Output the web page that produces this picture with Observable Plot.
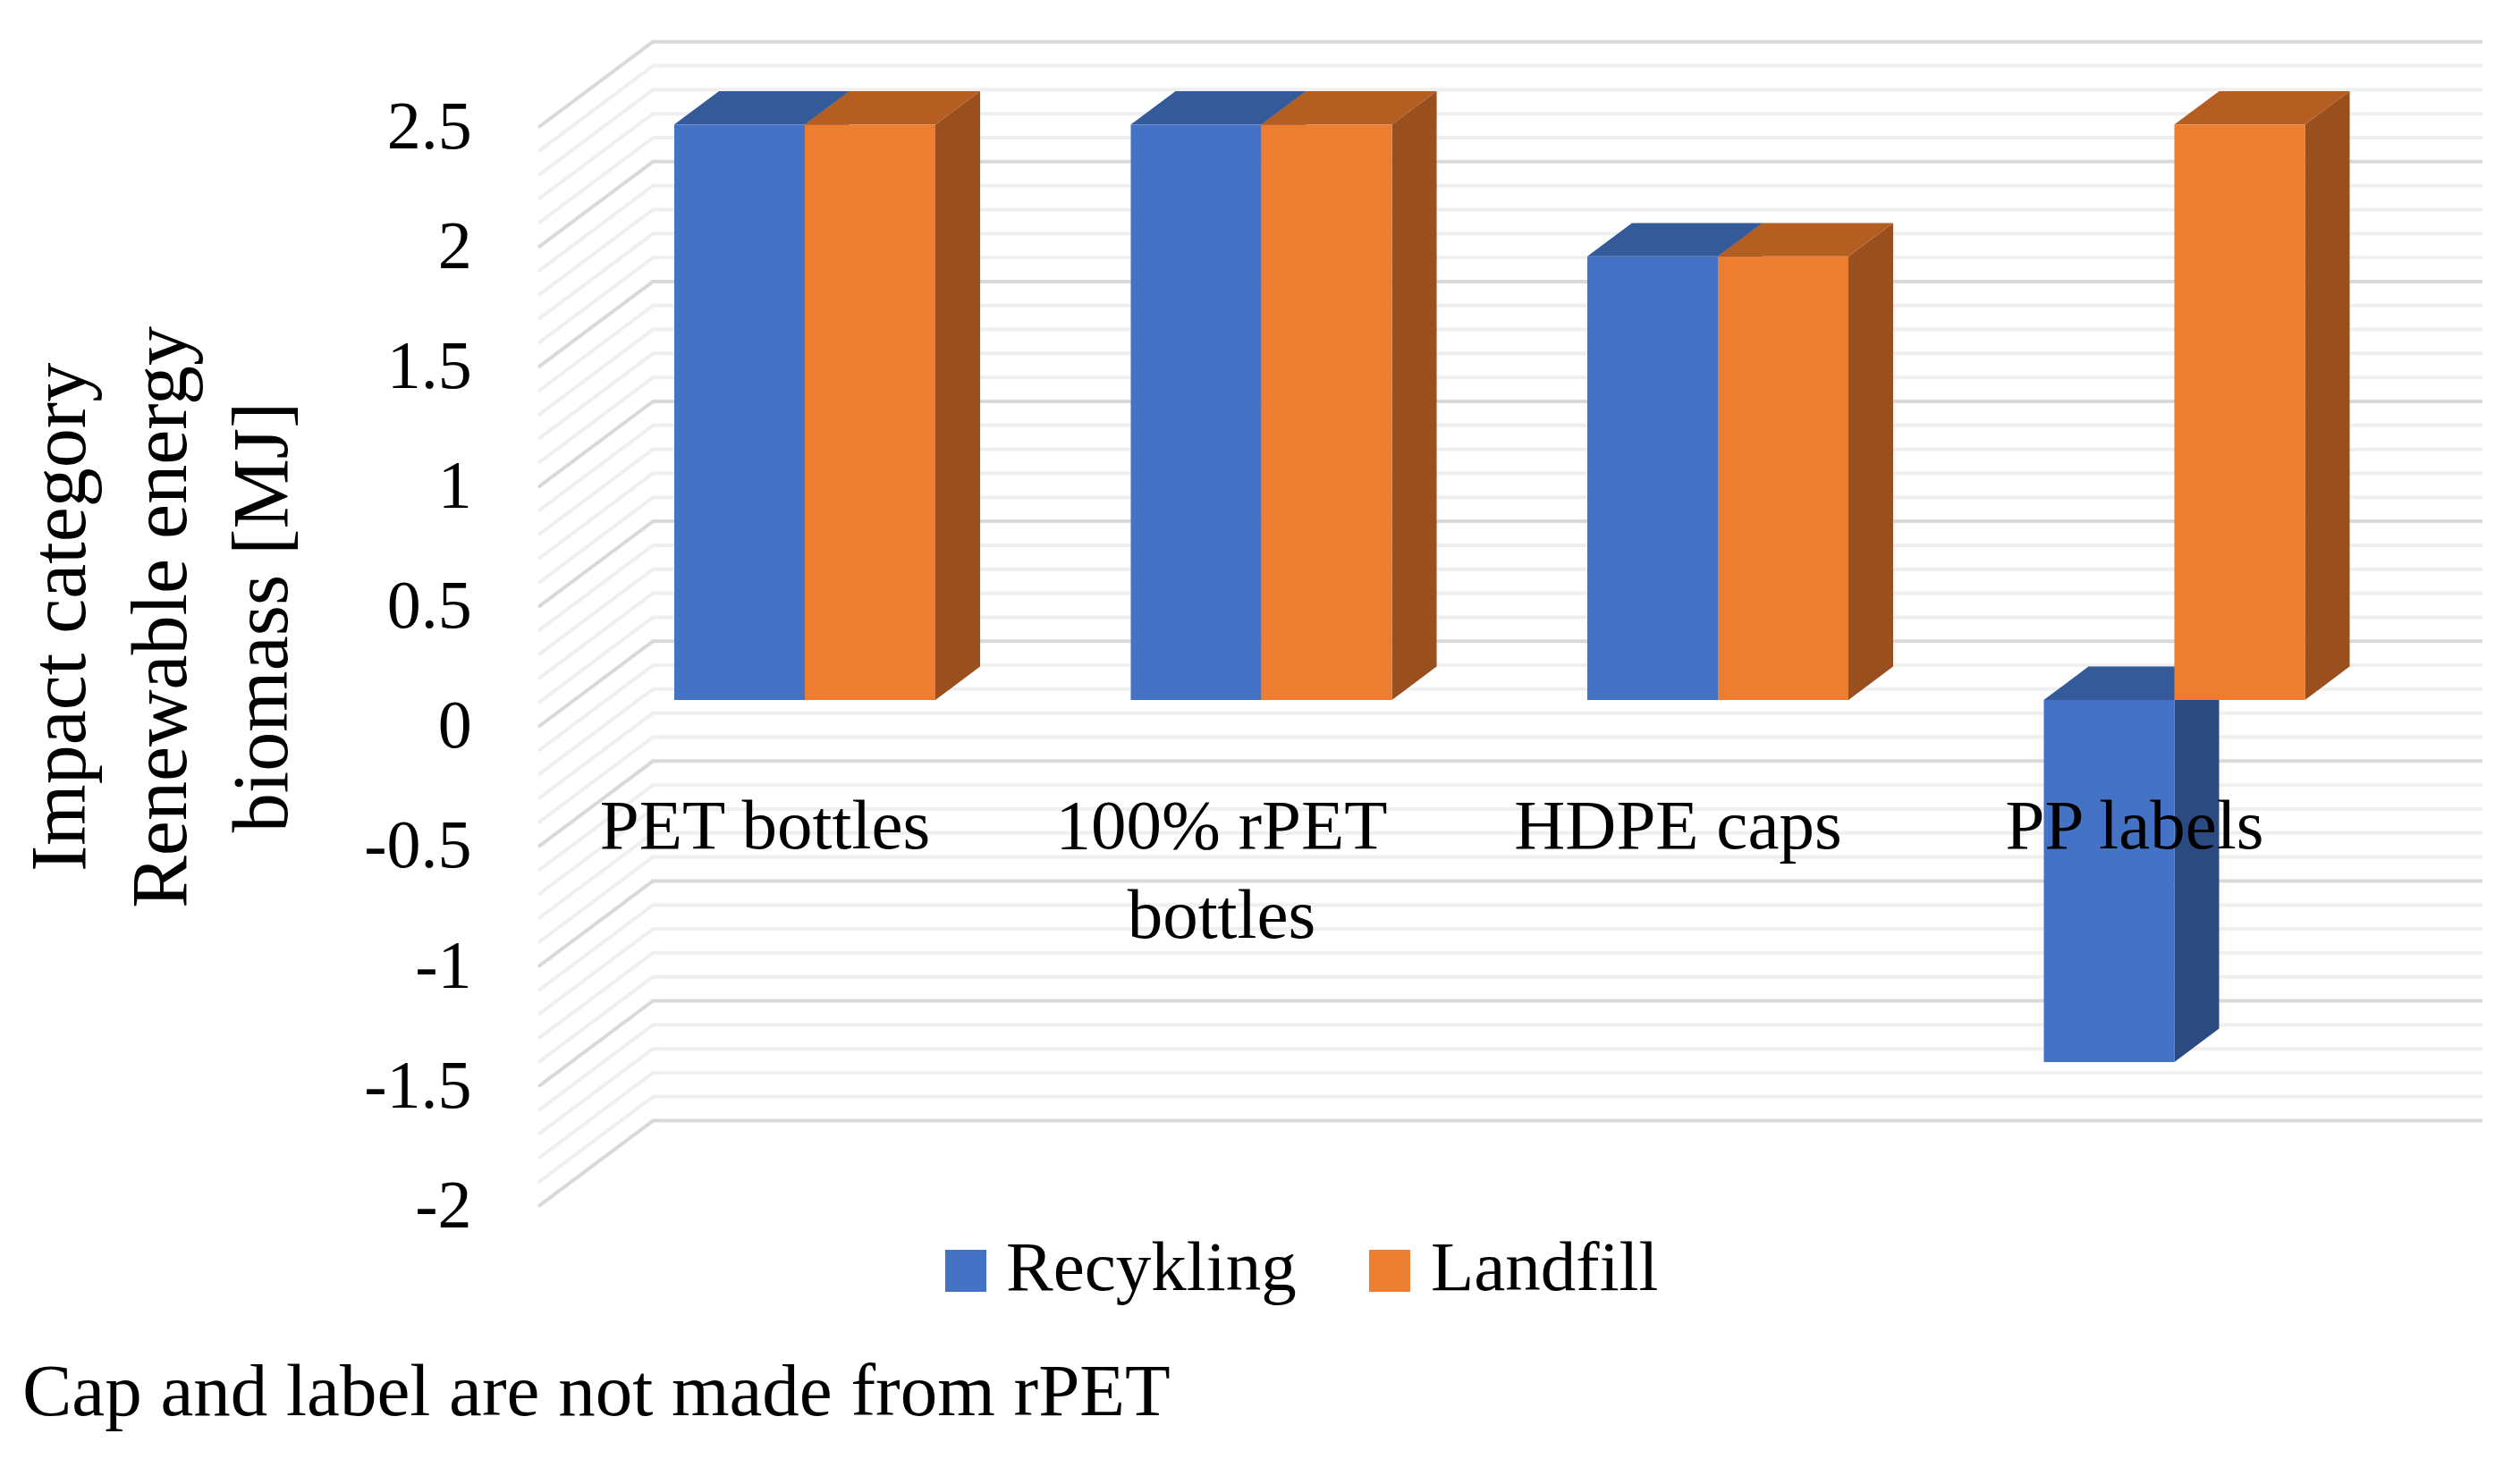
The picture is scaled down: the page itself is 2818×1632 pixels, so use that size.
<!DOCTYPE html>
<html>
<head>
<meta charset="utf-8">
<script src="https://cdn.jsdelivr.net/npm/d3@7"></script>
<script src="https://cdn.jsdelivr.net/npm/@observablehq/plot@0.6"></script>
<style>
  body { margin: 0; background: #fff; }
  #wrap { position: relative; width: 2818px; height: 1632px; overflow: hidden;
          font-family: "Palatino Linotype", Palatino, "Book Antiqua", "Liberation Serif", serif; color: #000; }
  #chart { position: absolute; left: 0; top: 0; }
  .sw { position: absolute; width: 46px; height: 47px; }
  .lg { position: absolute; font-size: 79px; line-height: 79px; white-space: nowrap; }
  #caption { position: absolute; left: 25px; top: 1514px; font-size: 83px; line-height: 82px; white-space: nowrap; }
</style>
</head>
<body>
<div id="wrap">
  <div id="chart"></div>
  <div id="legend"></div>
  <div id="caption">Cap and label are not made from rPET</div>
</div>
<script>
// ---- data ----
const categories = ["PET bottles", "100% rPET\nbottles", "HDPE caps", "PP labels"];
const seriesNames = ["Recykling", "Landfill"];
const recyklingValues = [2.4, 2.4, 1.85, -1.51];
const landfillValues = [2.4, 2.4, 1.85, 2.4];
const majorTicks = [2.5, 2, 1.5, 1, 0.5, 0, -0.5, -1, -1.5, -2];
const minorTicks = d3.range(-20, 26).map(k => k / 10).filter(v => !majorTicks.includes(v));
const yTitle = "Impact category\nRenewable energy\nbiomass [MJ]";

// ---- styles ----
const frontColors = ["#4472C4", "#ED7D31"];
const topColors = ["#345A99", "#B45E22"];
const sideColors = ["#2B4A80", "#9A501E"];
const majorGrid = "#D9D9D9";
const minorGrid = "#EFEFEF";

// oblique 3D projection (in data units)
const barW = 0.286;            // bar width, in category steps
const ax = 0.098, ay = 0.1394; // depth vector of one bar depth
const zFront = -0.762, zBack = 1.773; // wall front / back depth
const wallFrontX = -0.582;
const wallBackX = wallFrontX + (zBack - zFront) * ax;
const wallRightX = 3.675;

const valuesBySeries = [recyklingValues, landfillValues];
const bars = [];
categories.forEach((c, i) => {
  seriesNames.forEach((s, k) => {
    const v = valuesBySeries[k][i];
    bars.push({id: `${i}-${k}`, cat: c, i, k, value: v,
      x1: k === 0 ? i - barW : i, x2: k === 0 ? i : i + barW,
      lo: Math.min(0, v), hi: Math.max(0, v)});
  });
});
const sidePts = bars.flatMap(b => [
  {id: b.id, k: b.k, x: b.x2, y1: b.lo, y2: b.hi},
  {id: b.id, k: b.k, x: b.x2 + ax, y1: b.lo + ay, y2: b.hi + ay}
]);
const topPts = bars.flatMap(b => [
  {id: b.id, k: b.k, y: b.hi, x1: b.x1, x2: b.x2},
  {id: b.id, k: b.k, y: b.hi + ay, x1: b.x1 + ax, x2: b.x2 + ax}
]);
const catTable = categories.map((c, i) => ({c, i}));

const marks = [
  // back wall
  Plot.ruleY(minorTicks, {y: d => d + zBack * ay, x1: () => wallBackX, x2: () => wallRightX, stroke: minorGrid, strokeWidth: 4}),
  Plot.ruleY(majorTicks, {y: d => d + zBack * ay, x1: () => wallBackX, x2: () => wallRightX, stroke: majorGrid, strokeWidth: 4}),
  // side wall
  Plot.link(minorTicks, {x1: () => wallFrontX, y1: d => d + zFront * ay, x2: () => wallBackX, y2: d => d + zBack * ay, stroke: minorGrid, strokeWidth: 4, strokeLinecap: "round"}),
  Plot.link(majorTicks, {x1: () => wallFrontX, y1: d => d + zFront * ay, x2: () => wallBackX, y2: d => d + zBack * ay, stroke: majorGrid, strokeWidth: 4, strokeLinecap: "round"}),
  Plot.axisY(majorTicks, {tickSize: 0, tickPadding: 0, dx: 10, dy: 28.5, tickFormat: d => String(d), fontSize: 76, label: null})
];
[0, 1].forEach(k => {
  marks.push(Plot.areaY(sidePts.filter(p => p.k === k), {x: "x", y1: "y1", y2: "y2", z: "id", fill: sideColors[k]}));
});
[0, 1].forEach(k => {
  marks.push(Plot.areaX(topPts.filter(p => p.k === k), {y: "y", x1: "x1", x2: "x2", z: "id", fill: topColors[k]}));
});
[0, 1].forEach(k => {
  marks.push(Plot.rect(bars.filter(b => b.k === k), {x1: "x1", x2: "x2", y1: "lo", y2: "hi", fill: frontColors[k]}));
});
marks.push(
  Plot.text(catTable, {x: "i", y: () => 0, text: "c", lineAnchor: "top", dy: 94, dx: -45, fontSize: 79, lineHeight: 1.27, fill: "#000"}),
  Plot.text([yTitle], {frameAnchor: "left", textAnchor: "middle", text: d => d, rotate: -90, fontSize: 88, lineHeight: 1.284, dx: -346, dy: -26, fill: "#000"})
);

const chart = Plot.plot({
  width: 2818,
  height: 1370,
  marginLeft: 517.125,
  marginRight: 3.625,
  marginTop: 112.5,
  marginBottom: 50.6,
  x: {domain: [-0.75, 3.75], axis: null},
  y: {domain: [-2, 2.5]},
  style: {fontFamily: '"Palatino Linotype", Palatino, "Book Antiqua", "Liberation Serif", serif', fontSize: "76px", background: "white", overflow: "visible", color: "#000"},
  marks
});
document.getElementById("chart").appendChild(chart);

// legend
const legend = document.getElementById("legend");
const legendPos = [{sw: 1057, tx: 1125}, {sw: 1531, tx: 1600}];
seriesNames.forEach((s, k) => {
  const sw = document.createElement("div");
  sw.className = "sw";
  sw.style.left = legendPos[k].sw + "px";
  sw.style.top = "1398px";
  sw.style.background = frontColors[k];
  legend.appendChild(sw);
  const t = document.createElement("div");
  t.className = "lg";
  t.style.left = legendPos[k].tx + "px";
  t.style.top = "1377px";
  t.textContent = s;
  legend.appendChild(t);
});
</script>
</body>
</html>
